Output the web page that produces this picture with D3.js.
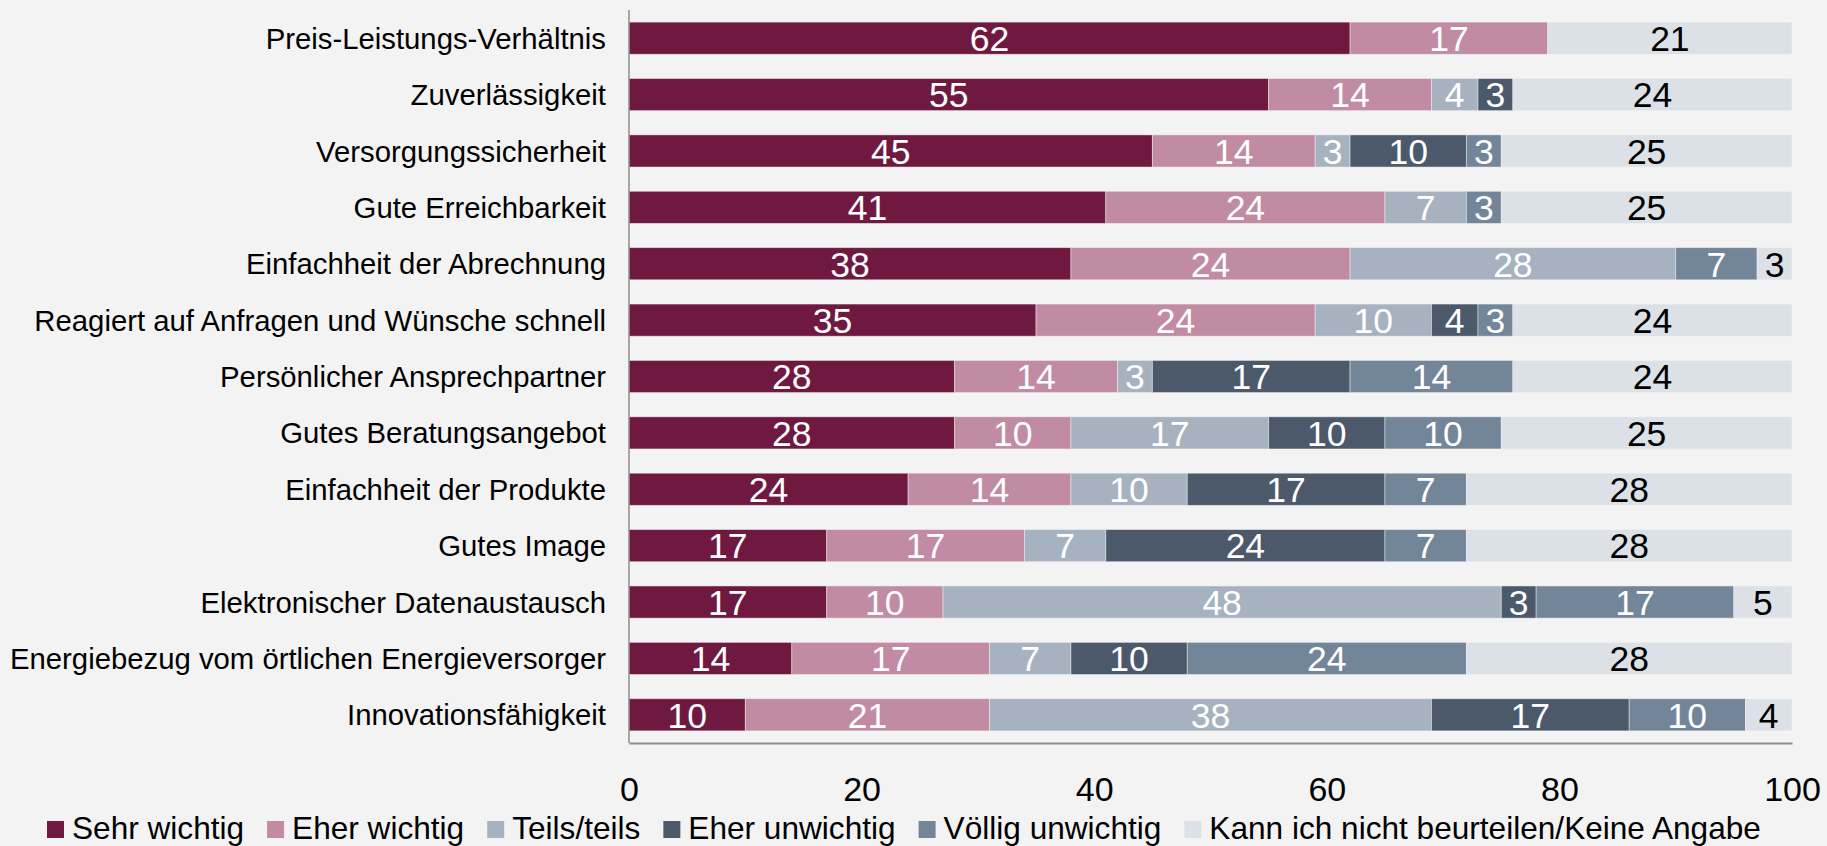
<!DOCTYPE html>
<html>
<head>
<meta charset="utf-8">
<script src="https://cdn.jsdelivr.net/npm/d3@7"></script>
<style>
  html, body { margin: 0; padding: 0; background: #F3F3F3; }
  svg { display: block; }
  text { font-family: "Liberation Sans", Arial, sans-serif; }
</style>
</head>
<body>
<svg id="chart" width="1827" height="846"></svg>
<script>
const categories = [
  "Preis-Leistungs-Verhältnis",
  "Zuverlässigkeit",
  "Versorgungssicherheit",
  "Gute Erreichbarkeit",
  "Einfachheit der Abrechnung",
  "Reagiert auf Anfragen und Wünsche schnell",
  "Persönlicher Ansprechpartner",
  "Gutes Beratungsangebot",
  "Einfachheit der Produkte",
  "Gutes Image",
  "Elektronischer Datenaustausch",
  "Energiebezug vom örtlichen Energieversorger",
  "Innovationsfähigkeit"
];
const seriesNames = [
  "Sehr wichtig",
  "Eher wichtig",
  "Teils/teils",
  "Eher unwichtig",
  "Völlig unwichtig",
  "Kann ich nicht beurteilen/Keine Angabe"
];
const sehrWichtig     = [62, 55, 45, 41, 38, 35, 28, 28, 24, 17, 17, 14, 10];
const eherWichtig     = [17, 14, 14, 24, 24, 24, 14, 10, 14, 17, 10, 17, 21];
const teilsTeils      = [ 0,  4,  3,  7, 28, 10,  3, 17, 10,  7, 48,  7, 38];
const eherUnwichtig   = [ 0,  3, 10,  0,  0,  4, 17, 10, 17, 24,  3, 10, 17];
const voelligUnwichtig= [ 0,  0,  3,  3,  7,  3, 14, 10,  7,  7, 17, 24, 10];
const keineAngabe     = [21, 24, 25, 25,  3, 24, 24, 25, 28, 28,  5, 28,  4];
const xTicks = [0, 20, 40, 60, 80, 100];

const seriesValues = [sehrWichtig, eherWichtig, teilsTeils, eherUnwichtig, voelligUnwichtig, keineAngabe];
const colors = ["#6F1941", "#C08BA3", "#A7B2C0", "#4B596B", "#738599", "#DCE0E7"];
const labelColors = ["#FFFFFF", "#FFFFFF", "#FFFFFF", "#FFFFFF", "#FFFFFF", "#000000"];

const rows = categories.map((c, i) => {
  const r = { category: c };
  seriesNames.forEach((s, j) => r[s] = seriesValues[j][i]);
  return r;
});

const stacked = d3.stack().keys(seriesNames)(rows);

const svg = d3.select("#chart");
const x = d3.scaleLinear().domain([0, 100]).range([629, 1792]);
const y = d3.scaleBand().domain(categories).range([10, 743]).paddingInner(0.43).paddingOuter(0.215);

// bars
const g = svg.append("g");
stacked.forEach((layer, j) => {
  const segs = layer.filter(d => d[1] - d[0] > 0);
  const lg = g.append("g");
  lg.selectAll("rect")
    .data(segs)
    .join("rect")
    .attr("x", d => x(d[0]))
    .attr("y", d => y(d.data.category))
    .attr("width", d => x(d[1]) - x(d[0]))
    .attr("height", y.bandwidth())
    .attr("fill", colors[j])
    .attr("stroke", "#F3F3F3")
    .attr("stroke-opacity", 0.6)
    .attr("stroke-width", 0.8);
  lg.selectAll("text")
    .data(segs)
    .join("text")
    .attr("x", d => (x(d[0]) + x(d[1])) / 2)
    .attr("y", d => y(d.data.category) + y.bandwidth() / 2)
    .attr("dy", "0.36em")
    .attr("text-anchor", "middle")
    .attr("font-size", 35.5)
    .attr("fill", labelColors[j])
    .text(d => d[1] - d[0]);
});

// category labels
svg.append("g").selectAll("text")
  .data(categories)
  .join("text")
  .attr("x", 606)
  .attr("y", d => y(d) + y.bandwidth() / 2)
  .attr("dy", "0.36em")
  .attr("text-anchor", "end")
  .attr("font-size", 29.3)
  .attr("fill", "#000")
  .text(d => d);

// left axis line
svg.append("line")
  .attr("x1", 629).attr("x2", 629)
  .attr("y1", 10).attr("y2", 743)
  .attr("stroke", "#8C8C8C").attr("stroke-width", 1.5);

// bottom axis
const xAxis = d3.axisBottom(x).tickValues(xTicks).tickSize(0).tickSizeOuter(0).tickPadding(0);
const ax = svg.append("g").attr("transform", "translate(0,743)").call(xAxis);
ax.select(".domain").attr("stroke", "#8C8C8C").attr("stroke-width", 2);
ax.selectAll("text")
  .attr("y", 58)
  .attr("dy", 0)
  .attr("font-size", 34)
  .attr("font-family", "'Liberation Sans', Arial, sans-serif")
  .attr("fill", "#000");

// legend
const legend = svg.append("g");
let lx = 47;
seriesNames.forEach((s, j) => {
  legend.append("rect")
    .attr("x", lx).attr("y", 821)
    .attr("width", 17).attr("height", 17)
    .attr("fill", colors[j]);
  const t = legend.append("text")
    .attr("x", lx + 25).attr("y", 839)
    .attr("font-size", 31.6)
    .attr("fill", "#000")
    .text(s);
  lx += 25 + t.node().getComputedTextLength() + 23;
});
</script>
</body>
</html>
